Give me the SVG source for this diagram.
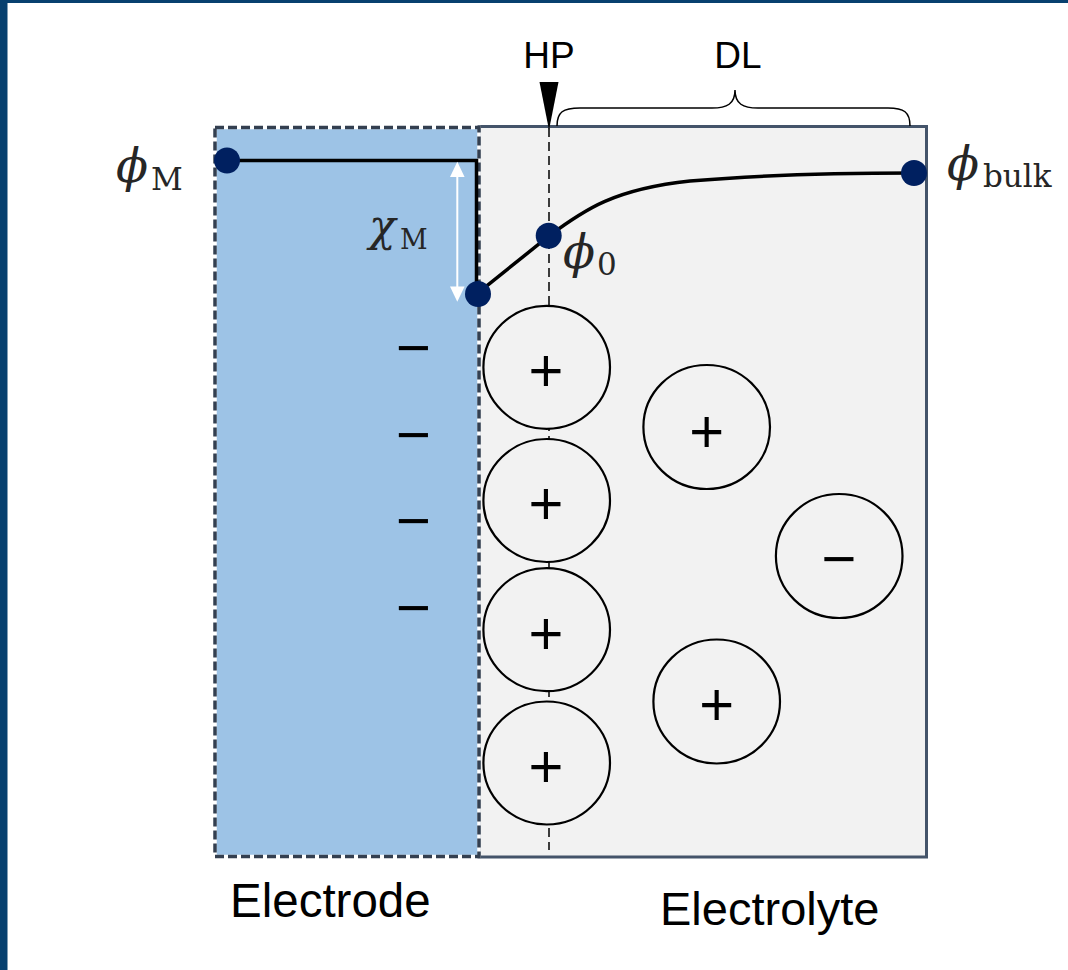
<svg xmlns="http://www.w3.org/2000/svg" width="1068" height="970" viewBox="0 0 1068 970">
<style>
.ion{fill:#f2f2f2;stroke:#000;stroke-width:2.2}
.sign{font-family:"Open Sans","Liberation Sans",Arial,sans-serif;font-size:62px;fill:#000;text-anchor:middle}
.lbl{font-family:"Liberation Sans",Arial,sans-serif;fill:#000}
.math{font-family:"DejaVu Serif","Liberation Serif",serif;font-style:italic;fill:#262626}
.sub{font-family:"DejaVu Serif","Liberation Serif",serif;font-style:normal;fill:#262626}
.dot{fill:#002060}
.pot{fill:none;stroke:#000;stroke-width:3.5}
</style>
<rect x="0" y="0" width="1068" height="970" fill="#fff"/>
<rect x="0" y="0" width="7.5" height="970" fill="#07406f"/>
<rect x="0" y="0" width="1068" height="3" fill="#07406f"/>

<g id="electrolyte">
<rect x="479" y="126.5" width="447.5" height="730.5" fill="#f2f2f2" stroke="#44546a" stroke-width="3"/>
</g>

<g id="connectors">
<line id="hp-line" x1="549" y1="128" x2="549" y2="850" stroke="#000" stroke-width="1.5" stroke-dasharray="9 5"/>
</g>

<g id="ion1"><ellipse class="ion" cx="546.7" cy="367.3" rx="63.3" ry="61.5"/><text class="sign" x="546" y="393">+</text></g>
<g id="ion2"><ellipse class="ion" cx="546.7" cy="500.5" rx="63.3" ry="61.5"/><text class="sign" x="546" y="526">+</text></g>
<g id="ion3"><ellipse class="ion" cx="546.7" cy="629.7" rx="63.3" ry="61.5"/><text class="sign" x="546" y="656">+</text></g>
<g id="ion4"><ellipse class="ion" cx="546.7" cy="763" rx="63.3" ry="61.5"/><text class="sign" x="546" y="789">+</text></g>
<g id="ion5"><ellipse class="ion" cx="706.7" cy="427" rx="63.3" ry="62"/><text class="sign" x="706.7" y="453.5">+</text></g>
<g id="ion6"><ellipse class="ion" cx="839.2" cy="556" rx="63.3" ry="62"/><text class="sign" x="839" y="581">−</text></g>
<g id="ion7"><ellipse class="ion" cx="716.7" cy="701.5" rx="63.3" ry="62"/><text class="sign" x="716.7" y="727">+</text></g>

<g id="electrode">
<rect x="215" y="127.5" width="264" height="729" fill="#9dc3e6" stroke="#fff" stroke-width="3.5"/>
<rect x="215" y="127.5" width="264" height="729" fill="none" stroke="#333f50" stroke-width="3.5" stroke-dasharray="9 4"/>
<text class="sign" x="413.5" y="369.5">−</text>
<text class="sign" x="413.5" y="456.5">−</text>
<text class="sign" x="413.5" y="542.5">−</text>
<text class="sign" x="413.5" y="629.5">−</text>
</g>

<g id="dl-brace">
<path d="M557,126 C557,112 563,108 580,108 L712,108 C727,108 735,104 735,90 C735,104 743,108 758,108 L888,108 C904,108 910,112 910,126" fill="none" stroke="#000" stroke-width="1.5"/>
<text class="lbl" x="738" y="68" font-size="37" text-anchor="middle">DL</text>
</g>

<g id="hp-marker">
<polygon points="539.5,82 558.5,82 549,130" fill="#000"/>
<text class="lbl" x="549" y="68" font-size="37" text-anchor="middle">HP</text>
</g>

<g id="potential">
<path class="pot" d="M227,160.5 L476.5,160.5 L476.5,294 L549,236 C585,209 615,189 690,181 C760,175 850,173 914,173"/>
</g>

<g id="chi-arrow">
<line x1="457.3" y1="170" x2="457.3" y2="294" stroke="#fff" stroke-width="2"/>
<polygon points="457.3,161.7 450,177 464.6,177" fill="#fff"/>
<polygon points="457.3,301.7 450,286.5 464.6,286.5" fill="#fff"/>
</g>

<g id="dot-phiM"><circle class="dot" cx="227" cy="160.5" r="13"/></g>
<g id="dot-surface"><circle class="dot" cx="478" cy="294" r="13"/></g>
<g id="dot-phi0"><circle class="dot" cx="548.7" cy="235.7" r="13"/></g>
<g id="dot-bulk"><circle class="dot" cx="914" cy="173" r="13"/></g>

<g id="label-phiM"><text class="math" x="116" y="182" font-size="47">ϕ</text><text class="sub" x="151" y="190" font-size="31">M</text></g>
<g id="label-chiM"><text class="math" x="369" y="241" font-size="44">χ</text><text class="sub" x="400" y="249" font-size="27">M</text></g>
<g id="label-phi0"><text class="math" x="563" y="268" font-size="47">ϕ</text><text class="sub" x="597" y="275" font-size="31">0</text></g>
<g id="label-bulk"><text class="math" x="947" y="180" font-size="47">ϕ</text><text class="sub" x="983" y="187" font-size="31">bulk</text></g>

<text class="lbl" x="230" y="917" font-size="47.5">Electrode</text>
<text class="lbl" x="660" y="925" font-size="47">Electrolyte</text>
</svg>
